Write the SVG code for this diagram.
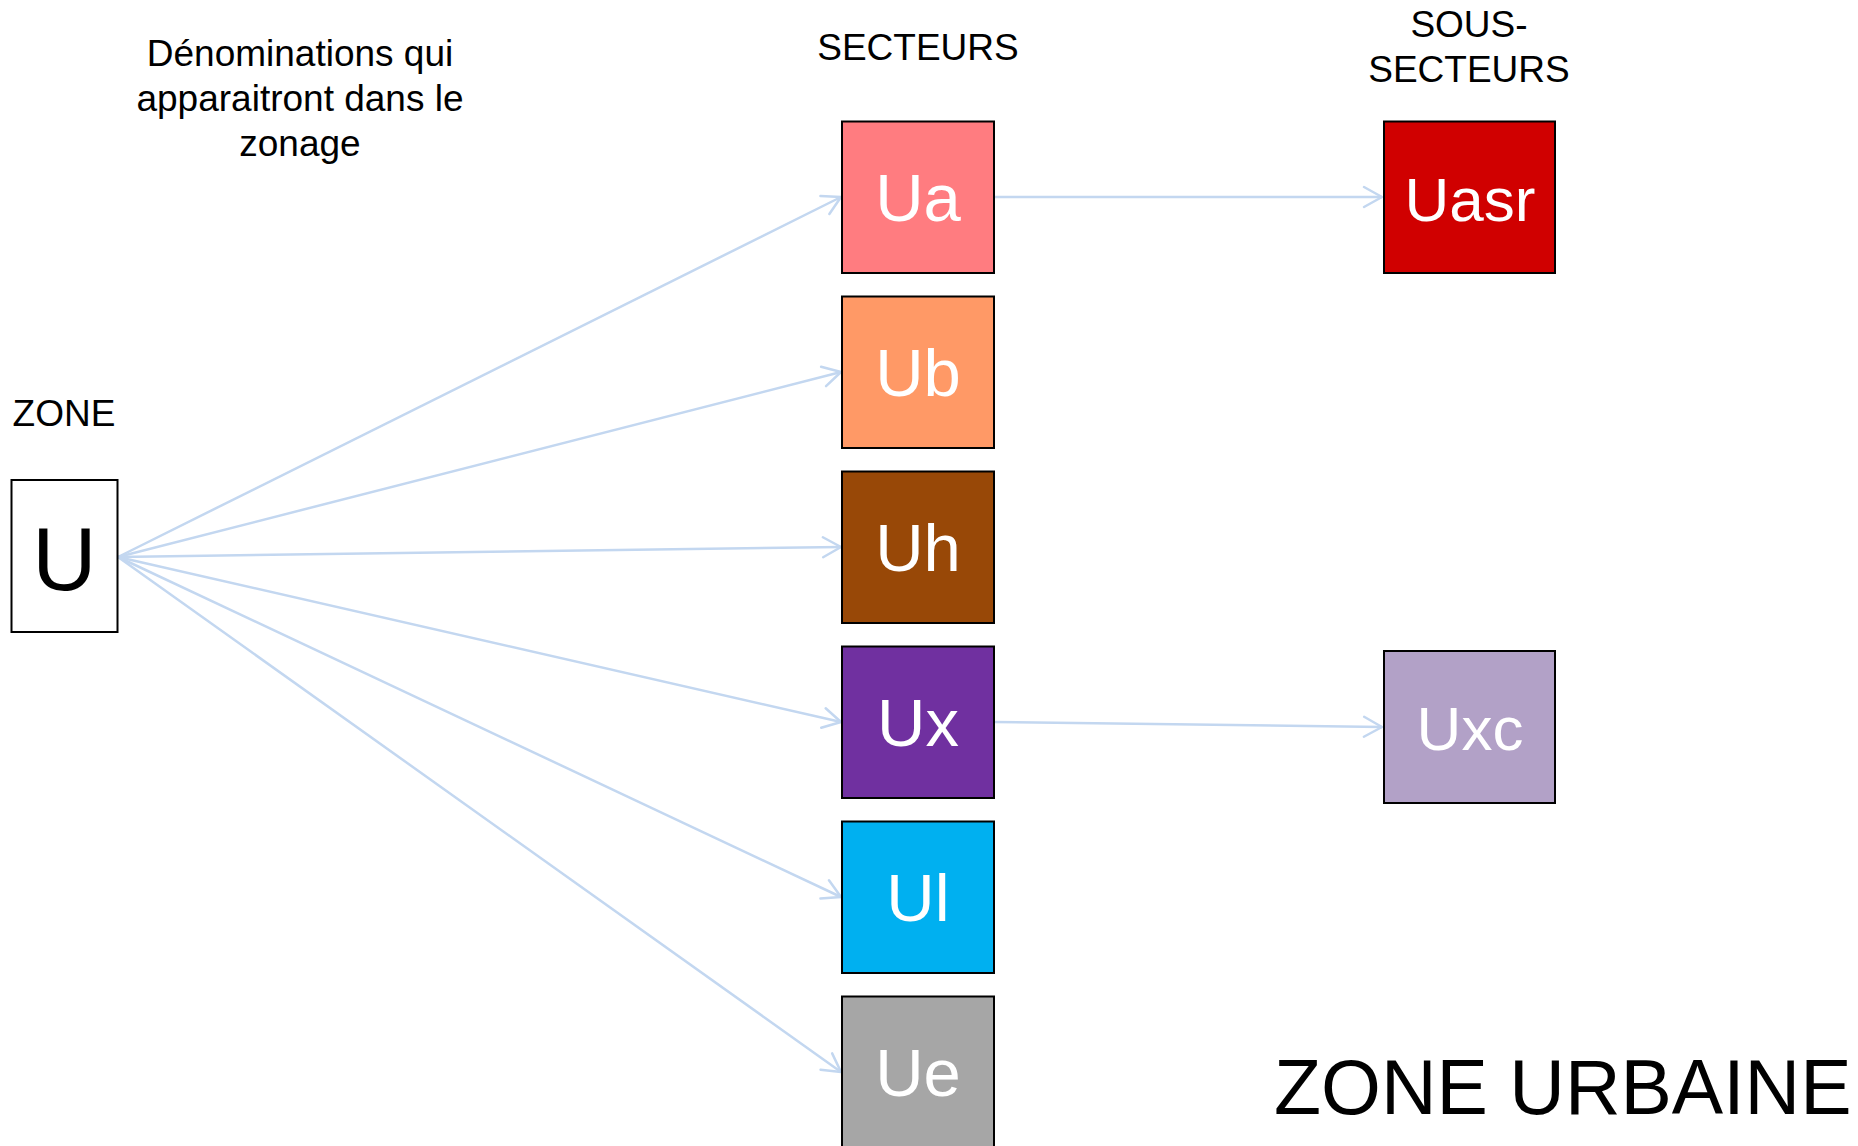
<svg xmlns="http://www.w3.org/2000/svg" width="1858" height="1146" viewBox="0 0 1858 1146">
  <style>
    text { font-family: "Liberation Sans", Arial, sans-serif; }
    .hdr { font-size: 37px; fill: #000; text-anchor: middle; }
    .box { stroke: #000; stroke-width: 2; }
    .lbl { font-size: 67px; fill: #fff; text-anchor: middle; }
    .sub { font-size: 62px; fill: #fff; text-anchor: middle; }
    .link { stroke: #C3D7F0; stroke-width: 2.5; fill: none; marker-end: url(#arr); }
  </style>
  <defs>
    <marker id="arr" markerUnits="userSpaceOnUse" markerWidth="24" markerHeight="24" viewBox="-21 -12 24 24" refX="0" refY="0" orient="auto" overflow="visible">
      <path d="M-18,-10 L0,0 L-18,10" fill="none" stroke="#C3D7F0" stroke-width="2.5" stroke-linecap="round" stroke-linejoin="round"/>
    </marker>
  </defs>
  <rect width="1858" height="1146" fill="#fff"/>

  <!-- column headings -->
  <g id="headings">
    <text class="hdr" x="300" y="66">Dénominations qui</text>
    <text class="hdr" x="300" y="111">apparaitront dans le</text>
    <text class="hdr" x="300" y="156">zonage</text>
    <text class="hdr" x="918" y="60">SECTEURS</text>
    <text class="hdr" x="1469" y="37">SOUS-</text>
    <text class="hdr" x="1469" y="82">SECTEURS</text>
    <text class="hdr" x="64" y="426">ZONE</text>
  </g>

  <!-- connectors -->
  <g id="connectors">
    <line class="link" x1="118" y1="557" x2="841" y2="197"/>
    <line class="link" x1="118" y1="557" x2="841" y2="372"/>
    <line class="link" x1="118" y1="557" x2="841" y2="547"/>
    <line class="link" x1="118" y1="557" x2="841" y2="722"/>
    <line class="link" x1="118" y1="557" x2="841" y2="897"/>
    <line class="link" x1="118" y1="557" x2="841" y2="1072"/>
    <line class="link" x1="994" y1="197" x2="1382" y2="197"/>
    <line class="link" x1="994" y1="722" x2="1382" y2="727"/>
  </g>

  <!-- zone -->
  <g id="node-U">
    <rect class="box" x="11.5" y="480" width="106" height="152" fill="#fff"/>
    <text x="64.5" y="590" font-size="89" text-anchor="middle" fill="#000">U</text>
  </g>

  <!-- sectors -->
  <g id="node-Ua">
    <rect class="box" x="842" y="121.5" width="152" height="151.5" fill="#FF7C80"/>
    <text class="lbl" x="918" y="221">Ua</text>
  </g>
  <g id="node-Ub">
    <rect class="box" x="842" y="296.5" width="152" height="151.5" fill="#FF9966"/>
    <text class="lbl" x="918" y="396">Ub</text>
  </g>
  <g id="node-Uh">
    <rect class="box" x="842" y="471.5" width="152" height="151.5" fill="#984807"/>
    <text class="lbl" x="918" y="571">Uh</text>
  </g>
  <g id="node-Ux">
    <rect class="box" x="842" y="646.5" width="152" height="151.5" fill="#7030A0"/>
    <text class="lbl" x="918" y="746">Ux</text>
  </g>
  <g id="node-Ul">
    <rect class="box" x="842" y="821.5" width="152" height="151.5" fill="#00B0F0"/>
    <text class="lbl" x="918" y="921">Ul</text>
  </g>
  <g id="node-Ue">
    <rect class="box" x="842" y="996.5" width="152" height="151.5" fill="#A6A6A6"/>
    <text class="lbl" x="918" y="1096">Ue</text>
  </g>

  <!-- sub-sectors -->
  <g id="node-Uasr">
    <rect class="box" x="1384" y="121.5" width="171" height="151.5" fill="#D00000"/>
    <text class="sub" x="1470" y="221">Uasr</text>
  </g>
  <g id="node-Uxc">
    <rect class="box" x="1384" y="651" width="171" height="152" fill="#B2A1C7"/>
    <text class="sub" x="1470" y="750">Uxc</text>
  </g>

  <!-- title -->
  <text x="1274" y="1114" font-size="77" fill="#000">ZONE URBAINE</text>
</svg>
